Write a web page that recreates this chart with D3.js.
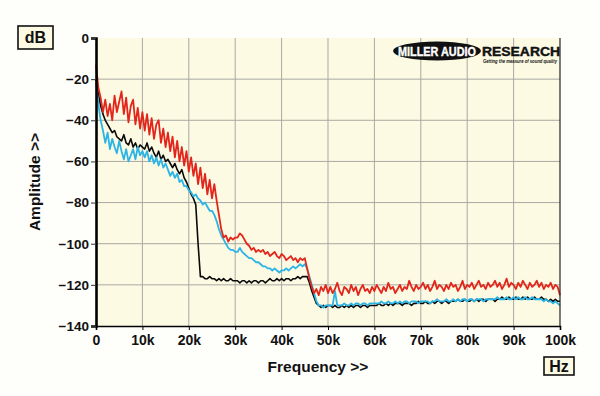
<!DOCTYPE html>
<html>
<head>
<meta charset="utf-8">
<script src="https://cdn.jsdelivr.net/npm/d3@7"></script>
<style>
  body { margin: 0; background: #fefefb; }
  svg { display: block; font-family: "Liberation Sans", Arial, sans-serif; font-weight: bold; }
</style>
</head>
<body>
<svg id="chart" width="600" height="396"></svg>
<script>
// frequency step of the traces, 0.5 kHz from 0 to 100 kHz
const stepKHz = 0.5;

const xTicks = [0, 10, 20, 30, 40, 50, 60, 70, 80, 90, 100];
const xTickLabels = ["0", "10k", "20k", "30k", "40k", "50k", "60k", "70k", "80k", "90k", "100k"];
const yTicks = [0, -20, -40, -60, -80, -100, -120, -140];

const redTrace = [
  -13, -24, -29, -36, -30, -38, -32, -40, -28, -36, -31,
  -26, -37, -29, -41, -33, -30, -42, -34, -44, -36,
  -45, -37, -47, -39, -49, -42, -40, -51, -44, -53,
  -46, -55, -48, -58, -50, -60, -53, -62, -55, -65,
  -58, -67, -61, -71, -63, -73, -66, -76, -69, -78,
  -71, -79, -86, -93, -97, -96, -99, -97, -98, -97,
  -97, -95, -96, -98, -100, -101, -103, -102, -104, -103,
  -104, -103, -105, -104, -106, -105, -104, -106, -107, -105,
  -106, -108, -107, -106, -108, -107, -109, -107, -108, -107,
  -112, -117, -121, -124, -122, -125, -121, -123, -120, -124,
  -121, -124, -122, -119, -123, -125, -121, -122, -124, -120,
  -123, -121, -125, -122, -120, -123, -122, -124, -121, -123,
  -120, -122, -124, -121, -123, -119, -122, -121, -124, -122,
  -120, -123, -121, -122, -118, -121, -123, -120, -122, -121,
  -119, -122, -120, -123, -121, -118, -122, -120, -121, -123,
  -120, -122, -119, -121, -120, -123, -121, -118, -122, -120,
  -121, -119, -122, -120, -118, -121, -120, -122, -119, -121,
  -120, -118, -121, -119, -122, -120, -117, -121, -119, -120,
  -122, -119, -121, -118, -120, -122, -119, -121, -120, -118,
  -121, -119, -122, -120, -121, -119, -122, -120, -121, -125
];

const blackTrace = [
  -20, -27, -33, -37, -40, -42, -44, -46, -45, -48, -49,
  -50, -47, -51, -52, -49, -53, -51, -54, -52, -53,
  -54, -51, -55, -53, -56, -58, -55, -59, -57, -60,
  -59, -61, -63, -61, -64, -66, -64, -68, -70, -73,
  -76, -78, -81, -100, -116, -116, -117, -117, -116, -117,
  -117, -118, -117, -118, -117, -118, -118, -117, -118, -118,
  -118, -119, -118, -118, -119, -118, -119, -118, -118, -119,
  -118, -118, -119, -118, -117, -118, -118, -117, -118, -117,
  -118, -117, -117, -118, -117, -117, -116, -117, -116, -116,
  -116, -119, -123, -126, -129, -130, -131, -130, -131, -130,
  -130, -131, -130, -131, -131, -130, -131, -130, -131, -130,
  -131, -130, -130, -131, -130, -130, -131, -130, -130, -130,
  -130, -129, -130, -130, -129, -130, -129, -130, -129, -129,
  -129, -130, -129, -129, -129, -130, -129, -129, -128, -129,
  -129, -128, -129, -129, -128, -129, -128, -128, -129, -128,
  -128, -129, -128, -128, -128, -127, -128, -128, -127, -128,
  -128, -127, -128, -127, -128, -127, -127, -128, -127, -127,
  -127, -128, -127, -127, -126, -127, -127, -126, -127, -127,
  -126, -127, -127, -126, -127, -126, -127, -127, -126, -127,
  -127, -126, -127, -127, -128, -127, -128, -127, -128, -128
];

const blueTrace = [
  -22, -32, -40, -45, -51, -46, -54, -49, -53, -56, -50,
  -55, -59, -54, -60, -57, -54, -59, -53, -57, -55,
  -58, -55, -60, -57, -61, -58, -62, -59, -63, -61,
  -64, -67, -65, -68, -66, -70, -69, -72, -72, -74,
  -75, -77, -76, -78, -79, -81, -80, -82, -84, -84,
  -86, -89, -93, -96, -98, -100, -102, -103, -103, -104,
  -104, -102, -104, -105, -106, -107, -107, -108, -109, -109,
  -110, -111, -111, -112, -112, -113, -112, -113, -114, -113,
  -113, -112, -113, -112, -111, -112, -111, -110, -111, -110,
  -112, -116, -120, -124, -128, -130, -130, -131, -130, -130,
  -130, -130, -123, -130, -130, -130, -129, -130, -130, -129,
  -130, -129, -129, -130, -129, -129, -130, -129, -129, -129,
  -129, -129, -128, -129, -129, -128, -129, -129, -128, -129,
  -128, -129, -128, -128, -129, -128, -128, -128, -129, -128,
  -128, -128, -128, -129, -128, -128, -127, -128, -128, -128,
  -127, -128, -128, -127, -128, -127, -128, -127, -127, -128,
  -127, -127, -128, -127, -127, -127, -128, -127, -127, -127,
  -127, -127, -126, -127, -127, -127, -126, -127, -127, -126,
  -127, -126, -127, -127, -126, -127, -127, -126, -127, -127,
  -127, -127, -128, -127, -128, -128, -129, -128, -129, -130
];

const traces = [
  { name: "black", values: blackTrace, colour: "#0a0a0a", width: 1.6 },
  { name: "blue", values: blueTrace, colour: "#2bb5e6", width: 1.8 },
  { name: "red", values: redTrace, colour: "#e3261b", width: 1.8 }
];

const margin = { top: 38, right: 40, bottom: 70, left: 96 };
const svg = d3.select("#chart");
const width = 600 - margin.left - margin.right;
const height = 396 - margin.top - margin.bottom;

const x = d3.scaleLinear().domain([0, 100]).range([0, width]);
const y = d3.scaleLinear().domain([-140, 0]).range([height, 0]);

const chart = svg.append("g").attr("transform", `translate(${margin.left}, ${margin.top})`);

chart.append("rect")
  .attr("width", width)
  .attr("height", height)
  .attr("fill", "#fcfae3");

// grid
chart.selectAll(".vgrid")
  .data(xTicks.slice(1, -1))
  .join("line")
  .attr("x1", d => x(d)).attr("x2", d => x(d))
  .attr("y1", 0).attr("y2", height)
  .attr("stroke", "#a9a9a4").attr("stroke-width", 1);

chart.selectAll(".hgrid")
  .data(yTicks.slice(1, -1))
  .join("line")
  .attr("x1", 0).attr("x2", width)
  .attr("y1", d => y(d)).attr("y2", d => y(d))
  .attr("stroke", "#a9a9a4").attr("stroke-width", 1);

// traces
const line = d3.line()
  .x((_, i) => x(i * stepKHz))
  .y(d => y(d));

chart.selectAll(".trace")
  .data(traces)
  .join("path")
  .attr("fill", "none")
  .attr("stroke", d => d.colour)
  .attr("stroke-width", d => d.width)
  .attr("stroke-linejoin", "round")
  .attr("d", d => line(d.values));

// frame
chart.append("line")
  .attr("x1", width).attr("x2", width).attr("y1", 0).attr("y2", height)
  .attr("stroke", "#222").attr("stroke-width", 1.2);

const xAxis = chart.append("g")
  .attr("transform", `translate(0, ${height})`)
  .call(d3.axisBottom(x).tickValues(xTicks).tickFormat((_, i) => xTickLabels[i]).tickSize(4).tickPadding(5));
xAxis.select(".domain").attr("stroke", "#000").attr("stroke-width", 1.6);
xAxis.selectAll("text").attr("font-size", 14).attr("font-weight", "bold").attr("fill", "#111").attr("font-family", "Liberation Sans, Arial, sans-serif");

const yAxis = chart.append("g")
  .call(d3.axisLeft(y).tickValues(yTicks).tickSize(5).tickPadding(2));
yAxis.select(".domain").attr("stroke", "#000").attr("stroke-width", 2.6);
yAxis.selectAll("text").attr("font-size", 13.5).attr("font-weight", "bold").attr("fill", "#111").attr("font-family", "Liberation Sans, Arial, sans-serif");
yAxis.selectAll(".tick line").attr("stroke", "#333");

// axis titles
svg.append("text")
  .attr("x", 318)
  .attr("y", 372)
  .attr("text-anchor", "middle")
  .attr("font-size", 15.5)
  .attr("fill", "#111")
  .text("Frequency >>");

svg.append("text")
  .attr("transform", `translate(40, ${margin.top + height / 2}) rotate(-90)`)
  .attr("text-anchor", "middle")
  .attr("font-size", 15.5)
  .attr("fill", "#111")
  .text("Amplitude >>");

// unit boxes
const unitBox = (bx, by, bw, bh, label) => {
  svg.append("rect")
    .attr("x", bx).attr("y", by).attr("width", bw).attr("height", bh)
    .attr("fill", "#fcfae3").attr("stroke", "#111").attr("stroke-width", 1.6);
  svg.append("text")
    .attr("x", bx + bw / 2).attr("y", by + bh / 2 + 5.5)
    .attr("text-anchor", "middle")
    .attr("font-size", 16)
    .attr("fill", "#111")
    .text(label);
};
unitBox(18, 26, 35, 23, "dB");
unitBox(544, 357, 30, 18, "Hz");

// logo
const logo = svg.append("g");
logo.append("ellipse")
  .attr("cx", 437).attr("cy", 51).attr("rx", 44).attr("ry", 9.5)
  .attr("fill", "#111");
logo.append("text")
  .attr("x", 437).attr("y", 55.5)
  .attr("text-anchor", "middle")
  .attr("font-size", 12.5)
  .attr("font-weight", 900)
  .attr("fill", "#fff")
  .attr("stroke", "#fff").attr("stroke-width", 0.4)
  .attr("textLength", 78)
  .attr("lengthAdjust", "spacingAndGlyphs")
  .text("MILLER AUDIO");
logo.append("text")
  .attr("x", 482).attr("y", 55.5)
  .attr("font-size", 12.5)
  .attr("font-weight", 900)
  .attr("fill", "#111")
  .attr("stroke", "#111").attr("stroke-width", 0.4)
  .attr("textLength", 78)
  .attr("lengthAdjust", "spacingAndGlyphs")
  .text("RESEARCH");
logo.append("text")
  .attr("x", 483).attr("y", 62.5)
  .attr("font-size", 5)
  .attr("font-style", "italic")
  .attr("fill", "#111")
  .attr("textLength", 74)
  .attr("lengthAdjust", "spacingAndGlyphs")
  .text("Getting the measure of sound quality");
</script>
</body>
</html>
